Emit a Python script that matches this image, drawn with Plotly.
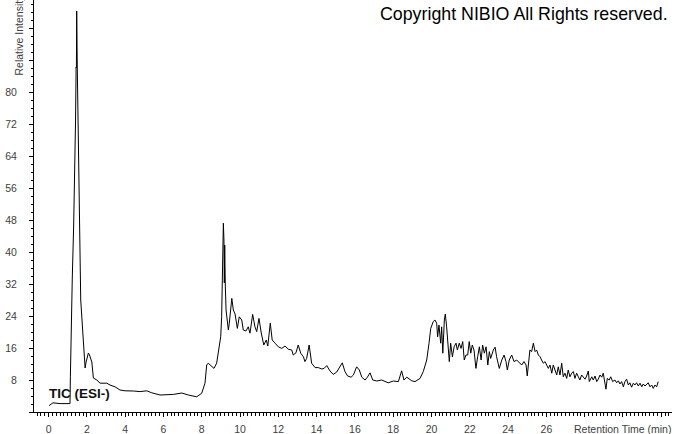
import plotly.graph_objects as go

# Retention time (min) and relative intensity (%)
time_min = [
    0.03, 0.23, 0.60, 1.12, 1.14, 1.17, 1.24, 1.31, 1.33, 1.35, 1.36, 1.41, 1.44, 1.45, 1.455, 1.47,
    1.50, 1.56, 1.61, 1.68, 1.79, 1.85, 1.91, 1.96, 2.08, 2.14, 2.26, 2.34, 2.52, 2.69, 3.04, 3.21,
    3.47, 3.73, 3.99, 4.43, 4.78, 5.13, 5.39, 5.82, 6.17, 6.52, 6.96, 7.30, 7.74, 8.00, 8.17, 8.26,
    8.34, 8.52, 8.64, 8.78, 8.90, 8.99, 9.04, 9.08, 9.13, 9.16, 9.18, 9.20, 9.23, 9.27, 9.39, 9.44,
    9.57, 9.65, 9.74, 9.86, 9.96, 10.09, 10.17, 10.31, 10.43, 10.52, 10.66, 10.78, 10.87, 10.99, 11.11, 11.24,
    11.37, 11.45, 11.58, 11.68, 11.83, 12.00, 12.18, 12.35, 12.52, 12.70, 12.78, 12.92, 13.04, 13.17, 13.31, 13.39,
    13.48, 13.61, 13.74, 13.92, 14.09, 14.27, 14.39, 14.53, 14.70, 14.87, 15.05, 15.22, 15.34, 15.48, 15.62, 15.80,
    15.92, 16.09, 16.23, 16.36, 16.53, 16.65, 16.79, 16.93, 17.14, 17.40, 17.57, 17.74, 18.01, 18.27, 18.44, 18.56,
    18.71, 18.84, 18.97, 19.14, 19.40, 19.57, 19.75, 19.87, 19.96, 20.09, 20.18, 20.27, 20.32, 20.39, 20.48, 20.53,
    20.59, 20.67, 20.72, 20.79, 20.88, 20.93, 21.00, 21.09, 21.18, 21.28, 21.35, 21.45, 21.54, 21.63, 21.71, 21.80,
    21.89, 21.97, 22.05, 22.13, 22.22, 22.32, 22.41, 22.50, 22.59, 22.67, 22.76, 22.85, 22.94, 23.02, 23.09, 23.23,
    23.32, 23.40, 23.54, 23.67, 23.79, 23.89, 23.96, 24.06, 24.19, 24.31, 24.45, 24.59, 24.71, 24.83, 24.94, 25.00,
    25.08, 25.14, 25.23, 25.32, 25.41, 25.49, 25.58, 25.67, 25.75, 25.84, 25.93, 26.02, 26.10, 26.19, 26.28, 26.36,
    26.45, 26.54, 26.62, 26.71, 26.80, 26.88, 26.97, 27.06, 27.14, 27.23, 27.32, 27.41, 27.49, 27.58, 27.67, 27.75,
    27.84, 27.93, 28.02, 28.10, 28.19, 28.24, 28.37, 28.45, 28.54, 28.63, 28.71, 28.80, 28.89, 28.97, 29.02, 29.11,
    29.18, 29.28, 29.36, 29.46, 29.58, 29.67, 29.76, 29.84, 29.93, 30.02, 30.10, 30.19, 30.28, 30.36, 30.45, 30.54,
    30.62, 30.71, 30.80, 30.89, 30.98, 31.06, 31.15, 31.24, 31.32, 31.41, 31.50, 31.58, 31.67, 31.76, 31.84,
]
intensity = [
    1.6, 2.3, 2.1, 2.1, 8.8, 19.75, 33.75, 46.25, 52.25, 46.75, 53.0, 73.0, 86.25, 92.25, 86.0, 100.25,
    86.25, 65.5, 44.75, 28.0, 19.75, 14.75, 11.0, 12.5, 14.75, 14.25, 12.5, 8.5, 8.0, 7.2, 7.2, 6.75,
    6.3, 5.5, 5.3, 5.25, 5.1, 5.3, 4.8, 4.25, 4.25, 4.4, 4.75, 4.25, 3.8, 4.7, 7.2, 11.75,
    12.2, 11.3, 10.9, 12.2, 15.5, 18.8, 23.8, 36.3, 47.2, 43.0, 32.25, 41.75, 31.75, 25.5, 20.5, 22.2,
    28.4, 25.5, 24.5, 20.9, 23.8, 23.0, 20.5, 20.25, 21.3, 19.7, 24.4, 21.3, 20.1, 23.4, 19.75, 16.75,
    18.0, 16.5, 22.2, 18.0, 17.2, 16.3, 15.9, 16.5, 15.7, 15.5, 14.25, 14.8, 16.75, 14.7, 13.8, 12.6,
    13.4, 16.75, 12.2, 11.1, 11.1, 10.75, 10.9, 11.6, 10.25, 9.4, 10.0, 11.3, 12.3, 10.1, 9.0, 8.7,
    9.25, 11.3, 10.5, 8.7, 8.0, 8.7, 9.8, 8.0, 7.75, 8.0, 7.6, 7.3, 7.75, 7.6, 10.3, 8.0,
    8.7, 8.2, 7.8, 7.6, 8.4, 10.1, 13.0, 17.2, 20.9, 22.6, 23.0, 22.2, 18.8, 21.75, 17.2, 21.3,
    14.7, 23.0, 24.5, 21.3, 16.75, 12.6, 17.2, 13.8, 16.3, 17.2, 15.5, 17.2, 15.9, 17.6, 13.0, 14.25,
    14.25, 17.6, 14.7, 16.75, 15.5, 10.9, 13.8, 16.3, 13.0, 16.75, 14.7, 16.3, 11.75, 15.1, 13.4, 15.5,
    16.2, 13.8, 10.9, 13.0, 14.25, 12.6, 10.5, 13.0, 14.25, 12.6, 13.0, 12.2, 11.75, 12.6, 11.75, 9.0,
    12.6, 15.5, 15.1, 17.2, 15.1, 15.5, 14.25, 13.8, 13.0, 12.2, 12.6, 11.75, 10.9, 11.75, 9.7, 11.75,
    10.5, 9.25, 11.3, 9.25, 12.2, 8.8, 9.7, 8.4, 10.5, 8.8, 9.7, 10.1, 8.4, 9.7, 8.8, 8.0,
    9.25, 8.7, 8.2, 9.0, 10.25, 7.6, 8.8, 8.0, 9.0, 7.6, 8.2, 9.25, 8.7, 9.7, 8.0, 5.7,
    8.4, 8.0, 8.8, 7.6, 8.0, 7.3, 7.8, 7.0, 7.6, 6.3, 7.6, 8.2, 6.75, 7.3, 6.2, 7.2,
    6.75, 7.3, 6.5, 7.2, 6.3, 7.0, 6.5, 7.0, 7.3, 6.3, 6.75, 5.9, 6.75, 6.3, 7.6,
]

x_tick_vals = list(range(0, 33, 2))
x_tick_text = [str(v) if v <= 26 else "" for v in x_tick_vals]
y_tick_vals = list(range(0, 97, 8))
y_tick_text = [str(v) if 0 < v <= 80 else "" for v in y_tick_vals]

tick_font = dict(family="Liberation Sans, Arial, sans-serif", size=10.5, color="#404040")

fig = go.Figure()
fig.add_trace(go.Scatter(x=time_min, y=intensity, mode="lines",
                         line=dict(color="black", width=1), hoverinfo="skip"))

fig.update_layout(
    width=674, height=434,
    margin=dict(l=34, r=2, t=0, b=22),
    plot_bgcolor="white", paper_bgcolor="white",
    showlegend=False,
    xaxis=dict(range=[-0.76, 32.56], showgrid=False, zeroline=False,
               showline=True, linecolor="black", linewidth=1,
               ticks="outside", ticklen=4, tickcolor="black",
               tickmode="array", tickvals=x_tick_vals, ticktext=x_tick_text,
               tickfont=tick_font, ticklabelstandoff=3,
               minor=dict(tickmode="linear", tick0=0, dtick=0.2, ticks="outside",
                          ticklen=2.5, tickcolor="black", showgrid=False)),
    yaxis=dict(range=[0, 103], showgrid=False, zeroline=False,
               showline=True, linecolor="black", linewidth=1,
               ticks="outside", ticklen=4, tickcolor="black",
               tickmode="array", tickvals=y_tick_vals, ticktext=y_tick_text,
               tickfont=tick_font, ticklabelstandoff=10,
               minor=dict(tickmode="linear", tick0=0, dtick=2, ticks="outside",
                          ticklen=2.5, tickcolor="black", showgrid=False)),
)

fig.add_annotation(text="Copyright NIBIO All Rights reserved.", xref="paper", yref="paper",
                   x=1.0, y=1.0, xanchor="right", yanchor="top", xshift=-2, yshift=-2,
                   showarrow=False,
                   font=dict(family="Liberation Sans, Arial, sans-serif", size=17.8, color="black"))
fig.add_annotation(text="<b>TIC (ESI-)</b>", xref="paper", yref="paper",
                   x=(47 - 34) / 638, y=(412 - 393) / 412, xanchor="left", yanchor="middle",
                   showarrow=False,
                   font=dict(family="Liberation Sans, Arial, sans-serif", size=13.5, color="#111111"))
fig.add_annotation(text="Retention Time (min)", xref="paper", yref="paper",
                   x=1.0, y=0, xanchor="right", yanchor="top", yshift=-9, xshift=1,
                   showarrow=False, font=tick_font)
fig.add_annotation(text="Relative Intensity", xref="paper", yref="paper",
                   x=0, y=(412 - 78) / 412, xanchor="center", yanchor="bottom", xshift=-16,
                   textangle=-90, showarrow=False, font=tick_font)

fig.write_html("out.html", config={"displayModeBar": False, "staticPlot": True},
               post_script="document.body.style.margin='0';document.body.style.padding='0';"
                           "document.body.style.overflow='hidden';")
